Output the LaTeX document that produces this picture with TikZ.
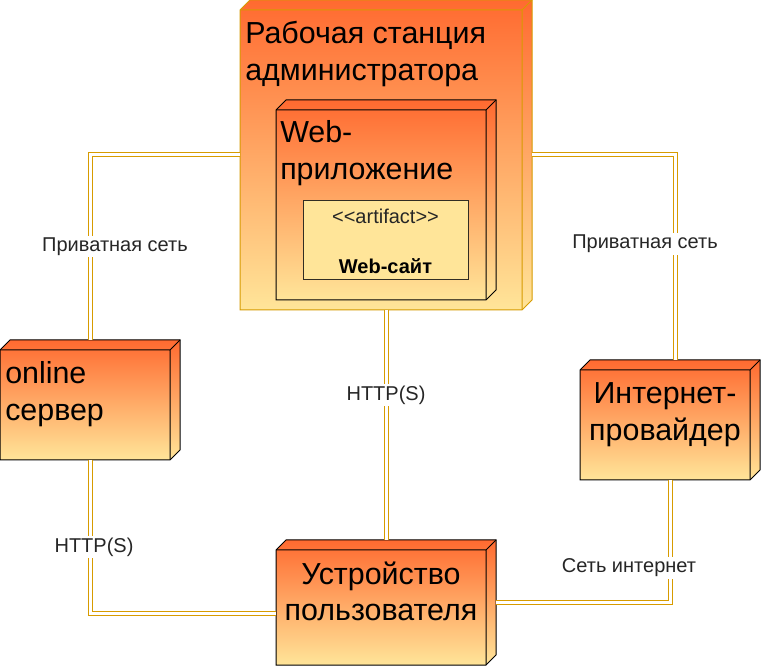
\documentclass[tikz,border=0pt]{standalone}
\usepackage{fontspec}
\setmainfont{Liberation Sans}
\usetikzlibrary{calc,backgrounds}
\definecolor{gtop}{RGB}{255,106,48}
\definecolor{gbot}{RGB}{255,229,153}
\definecolor{linkc}{RGB}{215,155,0}
\definecolor{artfill}{RGB}{255,229,153}
\definecolor{artline}{RGB}{50,45,35}
% draws a UML 3D node inside the bounding node #1 with stroke colour #2
\newcommand\drawthreed[2]{%
\begin{pgfonlayer}{background}
\path[draw=#2, line width=0.75pt, top color=gtop, bottom color=gbot]
  (#1.south west) -- ($(#1.north west)+(0,10)$) -- ($(#1.north west)+(10,0)$)
  -- (#1.north east) -- ($(#1.south east)+(0,-10)$) -- ($(#1.south east)+(-10,0)$) -- cycle;
\draw[#2, line width=0.75pt, line join=miter]
  ($(#1.north west)+(0,10)$) -- ($(#1.north east)+(-10,10)$) -- ($(#1.south east)+(-10,0)$)
  ($(#1.north east)+(-10,10)$) -- (#1.north east);
\end{pgfonlayer}}
\tikzset{
  bbox/.style={rectangle, inner sep=0pt, outer sep=0pt, draw=none},
  bigtext/.style={inner sep=0pt, font=\fontsize{22.8}{27.5}\selectfont},
  link/.style={draw=linkc, line width=0.75pt, double=white, double distance=2.25pt},
  lbl/.style={fill=white, inner sep=1.5pt, font=\fontsize{15}{18}\selectfont, text=black!85},
}
\begin{document}
\begin{tikzpicture}[x=0.75pt,y=-0.75pt]
\useasboundingbox (0,0) rectangle (761,666);
\begin{pgfonlayer}{background}
\fill[white] (0,0) rectangle (761,666);
\end{pgfonlayer}

% nodes (bounding boxes incl. depth)
\node[bbox, minimum width=219pt, minimum height=232.5pt] (ws) at (386,155) {};
\node[bbox, minimum width=165pt, minimum height=150pt] (app) at (386,200) {};
\node[bbox, minimum width=135pt, minimum height=90pt] (srv) at (90,400) {};
\node[bbox, minimum width=135pt, minimum height=90pt] (isp) at (670,420) {};
\node[bbox, minimum width=165pt, minimum height=93.75pt] (dev) at (386,602.5) {};

\drawthreed{ws}{linkc}
\drawthreed{app}{black}
\drawthreed{srv}{black}
\drawthreed{isp}{black}
\drawthreed{dev}{black}

% texts
\node[bigtext, anchor=north west, align=left] (wst) at (245,21) {Рабочая станция\\администратора};
\node[bigtext, anchor=north west, align=left] (appt) at (280,120.5) {Web-\\приложение};
\node[bigtext, anchor=north west, align=left] (srvt) at (5,361.5) {online\\сервер};
\node[bigtext, anchor=north, align=center] (ispt) at (665,382.5) {Интернет-\\провайдер};
\node[bigtext, anchor=north, align=center] (devt) at (381,561.5) {Устройство\\пользователя};

% artifact
\node[rectangle, draw=artline, line width=0.75pt, fill=artfill, minimum width=123.75pt,
      minimum height=59.25pt, inner sep=0pt] (art) at (385.5,240.5) {};
\node[lbl, fill=none, text=black!85] (artst) at (385.5,216) {<{}<artifact>{}>};
\node[lbl, fill=none, text=black, font=\fontsize{15}{18}\selectfont\bfseries] (artnm) at (385.5,266) {Web-сайт};

% connectors
\draw[link] (ws.west) -| (srv.north);
\draw[link] (ws.east) -| ($(isp.north)+(5,0)$);
\draw[link] (ws.south) -- (dev.north);
\draw[link] (srv.south) |- ($(dev.west)+(0,11)$);
\draw[link] (isp.south) |- (dev.east);

% connector labels
\node[lbl] (l1) at (115,246.5) {Приватная сеть};
\node[lbl] (l2) at (645,244) {Приватная сеть};
\node[lbl] (l3) at (386,395) {HTTP(S)};
\node[lbl] (l4) at (94,547) {HTTP(S)};
\node[lbl] (l5) at (629,568) {Сеть интернет};
\end{tikzpicture}
\end{document}
